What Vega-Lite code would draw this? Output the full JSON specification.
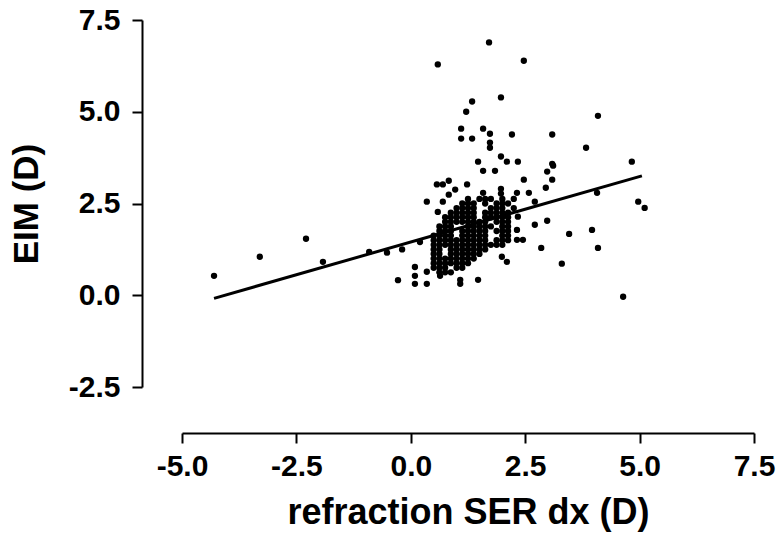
{
  "$schema": "https://vega.github.io/schema/vega-lite/v6.json",
  "width": 572,
  "height": 367,
  "autosize": {"type": "none"},
  "padding": {"left": 182, "top": 20, "right": 23, "bottom": 150},
  "background": "white",
  "config": {
    "view": {"stroke": null},
    "axis": {
      "grid": false,
      "domainColor": "black",
      "domainWidth": 2,
      "tickColor": "black",
      "tickWidth": 2,
      "tickSize": 10,
      "labelFlush": false,
      "labelFont": "Liberation Sans",
      "labelFontWeight": "bold",
      "labelFontSize": 30,
      "labelColor": "black",
      "titleFont": "Liberation Sans",
      "titleFontWeight": "bold",
      "titleFontSize": 36,
      "titleColor": "black"
    }
  },
  "datasets": {
    "points": [
      {"ser": -4.30, "eim": 0.53}, {"ser": -3.30, "eim": 1.05}, {"ser": -2.29, "eim": 1.54}, {"ser": -1.92, "eim": 0.91},
      {"ser": -0.91, "eim": 1.18}, {"ser": -0.52, "eim": 1.16}, {"ser": -0.28, "eim": 0.41},
      {"ser": 1.71, "eim": 6.89}, {"ser": 0.59, "eim": 6.29}, {"ser": 2.47, "eim": 6.39}, {"ser": 1.97, "eim": 5.39},
      {"ser": 1.34, "eim": 5.28}, {"ser": 1.21, "eim": 5.00}, {"ser": 4.09, "eim": 4.89},
      {"ser": 1.10, "eim": 4.54}, {"ser": 1.58, "eim": 4.54}, {"ser": 1.73, "eim": 4.40}, {"ser": 2.21, "eim": 4.38},
      {"ser": 3.09, "eim": 4.38}, {"ser": 1.10, "eim": 4.27}, {"ser": 1.34, "eim": 4.27}, {"ser": 1.73, "eim": 4.16},
      {"ser": 1.73, "eim": 4.02}, {"ser": 3.83, "eim": 4.02},
      {"ser": 1.47, "eim": 3.64}, {"ser": 1.97, "eim": 3.78}, {"ser": 2.10, "eim": 3.64}, {"ser": 2.34, "eim": 3.64},
      {"ser": 3.09, "eim": 3.58}, {"ser": 4.83, "eim": 3.64}, {"ser": 3.11, "eim": 3.53}, {"ser": 1.58, "eim": 3.39},
      {"ser": 1.84, "eim": 3.39}, {"ser": 2.98, "eim": 3.37},
      {"ser": 2.47, "eim": 3.15}, {"ser": 3.09, "eim": 3.15}, {"ser": 0.57, "eim": 3.02}, {"ser": 0.70, "eim": 3.02},
      {"ser": 0.83, "eim": 3.12}, {"ser": 1.23, "eim": 3.02}, {"ser": 0.97, "eim": 2.88}, {"ser": 1.97, "eim": 2.90},
      {"ser": 2.95, "eim": 2.93}, {"ser": 0.83, "eim": 2.74}, {"ser": 1.58, "eim": 2.79}, {"ser": 1.97, "eim": 2.77},
      {"ser": 2.32, "eim": 2.79}, {"ser": 2.58, "eim": 2.79},
      {"ser": 2.71, "eim": 2.55}, {"ser": 0.35, "eim": 2.55}, {"ser": 0.70, "eim": 2.55}, {"ser": 0.59, "eim": 2.27},
      {"ser": 2.34, "eim": 2.14}, {"ser": 2.71, "eim": 1.92}, {"ser": 2.98, "eim": 2.03}, {"ser": 3.46, "eim": 1.67},
      {"ser": 3.96, "eim": 1.78}, {"ser": 4.09, "eim": 1.29}, {"ser": 2.85, "eim": 1.29}, {"ser": 3.30, "eim": 0.86},
      {"ser": 4.97, "eim": 2.55}, {"ser": 5.11, "eim": 2.38}, {"ser": 4.64, "eim": -0.04}, {"ser": 4.07, "eim": 2.79},
      {"ser": 0.09, "eim": 0.77}, {"ser": 0.35, "eim": 0.64}, {"ser": 0.09, "eim": 0.53}, {"ser": 0.35, "eim": 0.31},
      {"ser": 0.09, "eim": 0.31}, {"ser": 0.64, "eim": 0.53}, {"ser": 1.08, "eim": 0.42}, {"ser": 1.08, "eim": 0.31},
      {"ser": 1.47, "eim": 0.42}, {"ser": 2.10, "eim": 0.91}, {"ser": 1.99, "eim": 1.05}, {"ser": 2.32, "eim": 1.51},
      {"ser": 2.45, "eim": 1.51}, {"ser": 2.32, "eim": 1.78}, {"ser": -0.19, "eim": 1.25}, {"ser": 0.20, "eim": 1.45},
      {"ser": 1.25, "eim": 2.625}, {"ser": 1.5, "eim": 2.625}, {"ser": 1.625, "eim": 2.625}, {"ser": 1.75, "eim": 2.625}, {"ser": 2.0, "eim": 2.625}, {"ser": 2.25, "eim": 2.625},
      {"ser": 1.125, "eim": 2.5}, {"ser": 1.25, "eim": 2.5}, {"ser": 1.375, "eim": 2.5}, {"ser": 1.625, "eim": 2.5}, {"ser": 1.875, "eim": 2.5}, {"ser": 2.0, "eim": 2.5}, {"ser": 2.125, "eim": 2.5},
      {"ser": 1.0, "eim": 2.375}, {"ser": 1.125, "eim": 2.375}, {"ser": 1.25, "eim": 2.375}, {"ser": 1.375, "eim": 2.375}, {"ser": 1.75, "eim": 2.375}, {"ser": 1.875, "eim": 2.375}, {"ser": 2.0, "eim": 2.375}, {"ser": 2.25, "eim": 2.375},
      {"ser": 0.875, "eim": 2.25}, {"ser": 1.0, "eim": 2.25}, {"ser": 1.125, "eim": 2.25}, {"ser": 1.25, "eim": 2.25}, {"ser": 1.375, "eim": 2.25}, {"ser": 1.625, "eim": 2.25}, {"ser": 1.75, "eim": 2.25}, {"ser": 1.875, "eim": 2.25}, {"ser": 2.0, "eim": 2.25}, {"ser": 2.125, "eim": 2.25},
      {"ser": 0.75, "eim": 2.125}, {"ser": 0.875, "eim": 2.125}, {"ser": 1.0, "eim": 2.125}, {"ser": 1.125, "eim": 2.125}, {"ser": 1.25, "eim": 2.125}, {"ser": 1.375, "eim": 2.125}, {"ser": 1.625, "eim": 2.125}, {"ser": 1.75, "eim": 2.125}, {"ser": 1.875, "eim": 2.125}, {"ser": 2.0, "eim": 2.125}, {"ser": 2.125, "eim": 2.125},
      {"ser": 0.75, "eim": 2.0}, {"ser": 0.875, "eim": 2.0}, {"ser": 1.0, "eim": 2.0}, {"ser": 1.125, "eim": 2.0}, {"ser": 1.25, "eim": 2.0}, {"ser": 1.375, "eim": 2.0}, {"ser": 1.5, "eim": 2.0}, {"ser": 1.625, "eim": 2.0}, {"ser": 1.875, "eim": 2.0}, {"ser": 2.0, "eim": 2.0}, {"ser": 2.125, "eim": 2.0},
      {"ser": 0.625, "eim": 1.875}, {"ser": 0.75, "eim": 1.875}, {"ser": 0.875, "eim": 1.875}, {"ser": 1.25, "eim": 1.875}, {"ser": 1.375, "eim": 1.875}, {"ser": 1.5, "eim": 1.875}, {"ser": 1.625, "eim": 1.875}, {"ser": 1.75, "eim": 1.875}, {"ser": 2.0, "eim": 1.875}, {"ser": 2.125, "eim": 1.875},
      {"ser": 0.625, "eim": 1.75}, {"ser": 0.75, "eim": 1.75}, {"ser": 0.875, "eim": 1.75}, {"ser": 1.125, "eim": 1.75}, {"ser": 1.25, "eim": 1.75}, {"ser": 1.375, "eim": 1.75}, {"ser": 1.5, "eim": 1.75}, {"ser": 1.625, "eim": 1.75}, {"ser": 1.875, "eim": 1.75}, {"ser": 2.0, "eim": 1.75}, {"ser": 2.125, "eim": 1.75},
      {"ser": 0.5, "eim": 1.625}, {"ser": 0.625, "eim": 1.625}, {"ser": 0.75, "eim": 1.625}, {"ser": 0.875, "eim": 1.625}, {"ser": 1.125, "eim": 1.625}, {"ser": 1.25, "eim": 1.625}, {"ser": 1.375, "eim": 1.625}, {"ser": 1.5, "eim": 1.625}, {"ser": 1.625, "eim": 1.625}, {"ser": 2.0, "eim": 1.625}, {"ser": 2.125, "eim": 1.625},
      {"ser": 0.5, "eim": 1.5}, {"ser": 0.625, "eim": 1.5}, {"ser": 0.75, "eim": 1.5}, {"ser": 0.875, "eim": 1.5}, {"ser": 1.0, "eim": 1.5}, {"ser": 1.125, "eim": 1.5}, {"ser": 1.25, "eim": 1.5}, {"ser": 1.375, "eim": 1.5}, {"ser": 1.5, "eim": 1.5}, {"ser": 1.625, "eim": 1.5}, {"ser": 1.875, "eim": 1.5}, {"ser": 2.0, "eim": 1.5}, {"ser": 2.125, "eim": 1.5},
      {"ser": 0.5, "eim": 1.375}, {"ser": 0.625, "eim": 1.375}, {"ser": 0.75, "eim": 1.375}, {"ser": 0.875, "eim": 1.375}, {"ser": 1.0, "eim": 1.375}, {"ser": 1.125, "eim": 1.375}, {"ser": 1.25, "eim": 1.375}, {"ser": 1.375, "eim": 1.375}, {"ser": 1.5, "eim": 1.375}, {"ser": 1.625, "eim": 1.375}, {"ser": 1.75, "eim": 1.375}, {"ser": 1.875, "eim": 1.375}, {"ser": 2.0, "eim": 1.375},
      {"ser": 0.5, "eim": 1.25}, {"ser": 0.625, "eim": 1.25}, {"ser": 0.875, "eim": 1.25}, {"ser": 1.0, "eim": 1.25}, {"ser": 1.125, "eim": 1.25}, {"ser": 1.25, "eim": 1.25}, {"ser": 1.375, "eim": 1.25}, {"ser": 1.5, "eim": 1.25}, {"ser": 1.625, "eim": 1.25},
      {"ser": 0.5, "eim": 1.125}, {"ser": 0.625, "eim": 1.125}, {"ser": 0.875, "eim": 1.125}, {"ser": 1.0, "eim": 1.125}, {"ser": 1.125, "eim": 1.125}, {"ser": 1.25, "eim": 1.125}, {"ser": 1.375, "eim": 1.125}, {"ser": 1.5, "eim": 1.125},
      {"ser": 0.5, "eim": 1.0}, {"ser": 0.625, "eim": 1.0}, {"ser": 0.75, "eim": 1.0}, {"ser": 0.875, "eim": 1.0}, {"ser": 1.0, "eim": 1.0}, {"ser": 1.125, "eim": 1.0}, {"ser": 1.25, "eim": 1.0}, {"ser": 1.375, "eim": 1.0},
      {"ser": 0.5, "eim": 0.875}, {"ser": 0.625, "eim": 0.875}, {"ser": 0.75, "eim": 0.875}, {"ser": 0.875, "eim": 0.875}, {"ser": 1.0, "eim": 0.875}, {"ser": 1.125, "eim": 0.875}, {"ser": 1.25, "eim": 0.875},
      {"ser": 0.5, "eim": 0.75}, {"ser": 0.625, "eim": 0.75}, {"ser": 0.75, "eim": 0.75}, {"ser": 1.0, "eim": 0.75}, {"ser": 1.125, "eim": 0.75},
      {"ser": 0.625, "eim": 0.625}, {"ser": 0.75, "eim": 0.625}, {"ser": 0.875, "eim": 0.625}
    ],
    "fit": [
      {"ser": -4.30, "eim": -0.084},
      {"ser": 5.05, "eim": 3.254}
    ]
  },
  "layer": [
    {
      "data": {"name": "points"},
      "mark": {"type": "circle", "size": 40, "color": "black", "opacity": 1},
      "encoding": {
        "x": {
          "field": "ser", "type": "quantitative",
          "scale": {"domain": [-5, 7.5], "nice": false, "zero": false},
          "axis": {
            "title": "refraction SER dx (D)",
            "values": [-5, -2.5, 0, 2.5, 5, 7.5],
            "labelExpr": "replace(format(datum.value, '.1f'), '\u2212', '-')",
            "offset": 46,
            "labelPadding": 8,
            "titlePadding": 14
          }
        },
        "y": {
          "field": "eim", "type": "quantitative",
          "scale": {"domain": [-2.5, 7.5], "nice": false, "zero": false},
          "axis": {
            "title": "EIM (D)",
            "values": [-2.5, 0, 2.5, 5, 7.5],
            "labelExpr": "replace(format(datum.value, '.1f'), '\u2212', '-')",
            "offset": 40,
            "labelPadding": 12,
            "titlePadding": 24,
            "titleFontSize": 35
          }
        }
      }
    },
    {
      "data": {"name": "fit"},
      "mark": {"type": "line", "color": "black", "strokeWidth": 3},
      "encoding": {
        "x": {"field": "ser", "type": "quantitative"},
        "y": {"field": "eim", "type": "quantitative"}
      }
    }
  ]
}
